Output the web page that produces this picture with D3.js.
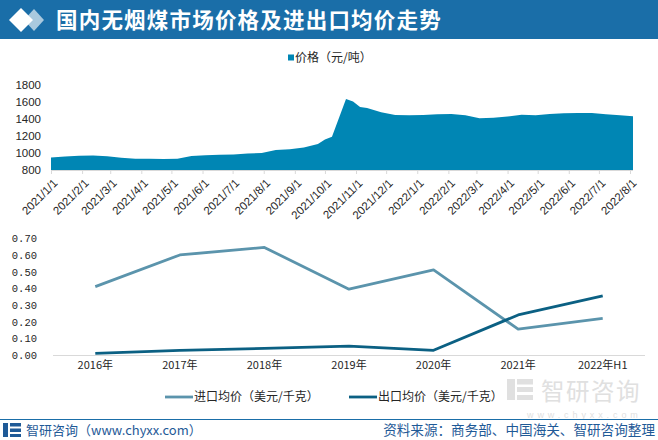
<!DOCTYPE html>
<html><head><meta charset="utf-8">
<script src="https://cdn.jsdelivr.net/npm/d3@7/dist/d3.min.js"></script>
<style>
html,body{margin:0;padding:0;background:#fff;}
svg{display:block;}
</style>
</head><body>
<svg id="chart" width="658" height="440"></svg>
<script>
// ---------- DATA ----------
const titleText = "国内无烟煤市场价格及进出口均价走势";
const priceDates = ["2021-01-01","2021-01-15","2021-01-29","2021-02-12","2021-02-26","2021-03-12","2021-03-26","2021-04-09","2021-04-23","2021-05-07","2021-05-21","2021-06-04","2021-06-18","2021-07-02","2021-07-16","2021-07-30","2021-08-13","2021-08-27","2021-09-10","2021-09-24","2021-10-01","2021-10-08","2021-10-22","2021-10-29","2021-11-05","2021-11-12","2021-11-26","2021-12-10","2021-12-24","2022-01-07","2022-01-21","2022-02-04","2022-02-18","2022-03-04","2022-03-18","2022-04-01","2022-04-15","2022-04-29","2022-05-13","2022-05-27","2022-06-10","2022-06-24","2022-07-08","2022-07-22","2022-08-04"];
const priceValues = [948,958,968,970,962,943,932,931,930,931,966,975,978,983,995,1000,1035,1045,1066,1105,1160,1192,1635,1605,1540,1530,1478,1448,1443,1447,1455,1458,1445,1408,1414,1430,1450,1443,1458,1468,1472,1470,1455,1443,1432];
const priceTickLabels = ["2021/1/1","2021/2/1","2021/3/1","2021/4/1","2021/5/1","2021/6/1","2021/7/1","2021/8/1","2021/9/1","2021/10/1","2021/11/1","2021/12/1","2022/1/1","2022/2/1","2022/3/1","2022/4/1","2022/5/1","2022/6/1","2022/7/1","2022/8/1"];
const priceYTicks = [800,1000,1200,1400,1600,1800];
const priceLegend = "价格（元/吨）";

const years = ["2016年","2017年","2018年","2019年","2020年","2021年","2022年H1"];
const importPrice = [0.41,0.60,0.645,0.395,0.51,0.155,0.22];
const exportPrice = [0.01,0.028,0.04,0.053,0.028,0.24,0.355];
const tradeYTicks = [0,0.1,0.2,0.3,0.4,0.5,0.6,0.7];
const seriesNames = ["进口均价（美元/千克）","出口均价（美元/千克）"];

const footerLeft = "智研咨询（www.chyxx.com）";
const footerRight = "资料来源：商务部、中国海关、智研咨询整理";

// ---------- STYLE ----------
const CJK = "'Noto Sans CJK SC','Noto Sans',sans-serif";
const NUM = "'Liberation Sans',Arial,sans-serif";
const MONO = "'Liberation Mono','DejaVu Sans Mono',monospace";
const areaColor = "#0086b4";
const importColor = "#5b94ac";
const exportColor = "#0b6083";
const axisGray = "#d9d9d9";
const textColor = "#262626";

const svg = d3.select("#chart");
svg.append("rect").attr("width",658).attr("height",440).attr("fill","#fff");

// ---------- WATERMARK (bottom right) ----------
const wm = svg.append("g").attr("fill","#e0e0e0");
wm.append("rect").attr("x",507).attr("y",379).attr("width",8).attr("height",21);
wm.append("rect").attr("x",517).attr("y",379).attr("width",16).attr("height",5.5);
wm.append("rect").attr("x",517).attr("y",387).attr("width",16).attr("height",5);
wm.append("rect").attr("x",517).attr("y",395).attr("width",16).attr("height",5);
wm.append("text").attr("x",541).attr("y",400).attr("font-family",CJK).attr("font-size",23.5)
  .attr("letter-spacing",1.5).text("智研咨询");
wm.append("text").attr("x",527).attr("y",418).attr("font-family",NUM).attr("font-size",9)
  .attr("letter-spacing",3.9).text("www.chyxx.com");

// ---------- TITLE BAR ----------
svg.append("rect").attr("x",0).attr("y",0).attr("width",658).attr("height",39).attr("fill","#1a6ea8");
svg.append("path").attr("d","M34,9 L44,20 L34,31 L24,20 Z").attr("fill","#a9c9de");
svg.append("path").attr("d","M21,8 L33,20 L21,32 L9,20 Z").attr("fill","#ffffff");
svg.append("text").attr("x",56).attr("y",20).attr("dy","0.36em")
  .attr("font-family",CJK).attr("font-weight",700).attr("font-size",21.5)
  .attr("letter-spacing",1.2).attr("fill","#fff").text(titleText);

// ---------- TOP: AREA CHART ----------
const parse = d3.timeParse("%Y-%m-%d");
const priceData = priceDates.map((d,i)=>({date:parse(d), v:priceValues[i]}));
const xT = d3.scaleTime()
  .domain([parse("2021-01-01"), parse("2022-08-04")])
  .range([51, 633]);
const yT = d3.scaleLinear().domain([800,1800]).range([170,85]);

const area = d3.area().x(d=>xT(d.date)).y0(yT(800)).y1(d=>yT(d.v));
svg.append("path").datum(priceData).attr("d",area).attr("fill",areaColor);

const tickDates = d3.timeMonth.range(parse("2021-01-01"), parse("2022-08-02"));
const xAxisTop = d3.axisBottom(xT).tickValues(tickDates).tickSize(4).tickFormat((d,i)=>priceTickLabels[i]);
const gxT = svg.append("g").attr("transform","translate(0,170)").call(xAxisTop);
gxT.select(".domain").attr("stroke",axisGray).attr("d","M51,0.5H633");
gxT.selectAll(".tick line").attr("stroke",axisGray);
gxT.selectAll(".tick text")
  .attr("font-family",NUM).attr("font-size",11.5).attr("fill",textColor)
  .attr("text-anchor","end").attr("y",0).attr("dy","0.35em")
  .attr("transform","translate(4,11) rotate(-45)");

const yAxisTop = d3.axisLeft(yT).tickValues(priceYTicks).tickSize(0).tickPadding(0).tickFormat(d3.format("d"));
const gyT = svg.append("g").attr("transform","translate(41,0)").call(yAxisTop);
gyT.select(".domain").remove();
gyT.selectAll(".tick text").attr("font-family",NUM).attr("font-size",11.5).attr("fill",textColor);

// top legend
svg.append("rect").attr("x",288).attr("y",54.5).attr("width",6).attr("height",6).attr("fill",areaColor);
svg.append("text").attr("x",295).attr("y",58).attr("dy","0.35em")
  .attr("font-family",CJK).attr("font-size",12).attr("fill",textColor).text(priceLegend);

// ---------- BOTTOM: LINE CHART ----------
const xB = d3.scaleBand().domain(years).range([53,645]);
const yB = d3.scaleLinear().domain([0,0.7]).range([355,238.3]);

svg.append("line").attr("x1",53).attr("x2",645).attr("y1",355.5).attr("y2",355.5)
  .attr("stroke",axisGray).attr("stroke-width",1);

const yAxisB = d3.axisLeft(yB).tickValues(tradeYTicks).tickSize(0).tickPadding(0).tickFormat(d3.format(".2f"));
const gyB = svg.append("g").attr("transform","translate(37,0)").call(yAxisB);
gyB.select(".domain").remove();
gyB.selectAll(".tick text").attr("font-family",MONO).attr("font-size",10.5).attr("fill",textColor);

const xAxisB = d3.axisBottom(xB).tickSize(0).tickPadding(0);
const gxB = svg.append("g").attr("transform","translate(0,362)").call(xAxisB);
gxB.select(".domain").remove();
gxB.selectAll(".tick text").attr("font-family",CJK).attr("font-size",11).attr("fill",textColor).attr("dy","0.6em");

const line = d3.line().x((d,i)=>xB(years[i])+xB.bandwidth()/2).y(d=>yB(d));
svg.append("path").datum(importPrice).attr("d",line).attr("fill","none")
  .attr("stroke",importColor).attr("stroke-width",2.8).attr("stroke-linejoin","round");
svg.append("path").datum(exportPrice).attr("d",line).attr("fill","none")
  .attr("stroke",exportColor).attr("stroke-width",2.8).attr("stroke-linejoin","round");

// bottom legend
const legendItems = [
  {name:seriesNames[0], color:importColor, x:165},
  {name:seriesNames[1], color:exportColor, x:349}
];
legendItems.forEach(it=>{
  svg.append("line").attr("x1",it.x).attr("x2",it.x+28).attr("y1",397).attr("y2",397)
    .attr("stroke",it.color).attr("stroke-width",2.8);
  svg.append("text").attr("x",it.x+29).attr("y",397).attr("dy","0.35em")
    .attr("font-family",CJK).attr("font-size",12).attr("fill",textColor).text(it.name);
});

// ---------- FOOTER ----------
svg.append("line").attr("x1",0).attr("x2",658).attr("y1",419.5).attr("y2",419.5)
  .attr("stroke","#1a6ea8").attr("stroke-width",1.2);
const logo = svg.append("g").attr("fill","#1f5a97");
logo.append("rect").attr("x",3).attr("y",423).attr("width",5).attr("height",14);
logo.append("rect").attr("x",10).attr("y",423).attr("width",11).attr("height",3.5);
logo.append("rect").attr("x",10).attr("y",428.5).attr("width",11).attr("height",3.5);
logo.append("rect").attr("x",10).attr("y",434).attr("width",11).attr("height",3);
svg.append("text").attr("x",26).attr("y",430).attr("dy","0.35em")
  .attr("font-family",CJK).attr("font-size",13).attr("fill","#1f5a97").text(footerLeft);
svg.append("text").attr("x",655).attr("y",430).attr("dy","0.35em").attr("text-anchor","end")
  .attr("font-family",CJK).attr("font-size",13.6).attr("fill","#1f5a97").text(footerRight);
</script>
</body></html>
